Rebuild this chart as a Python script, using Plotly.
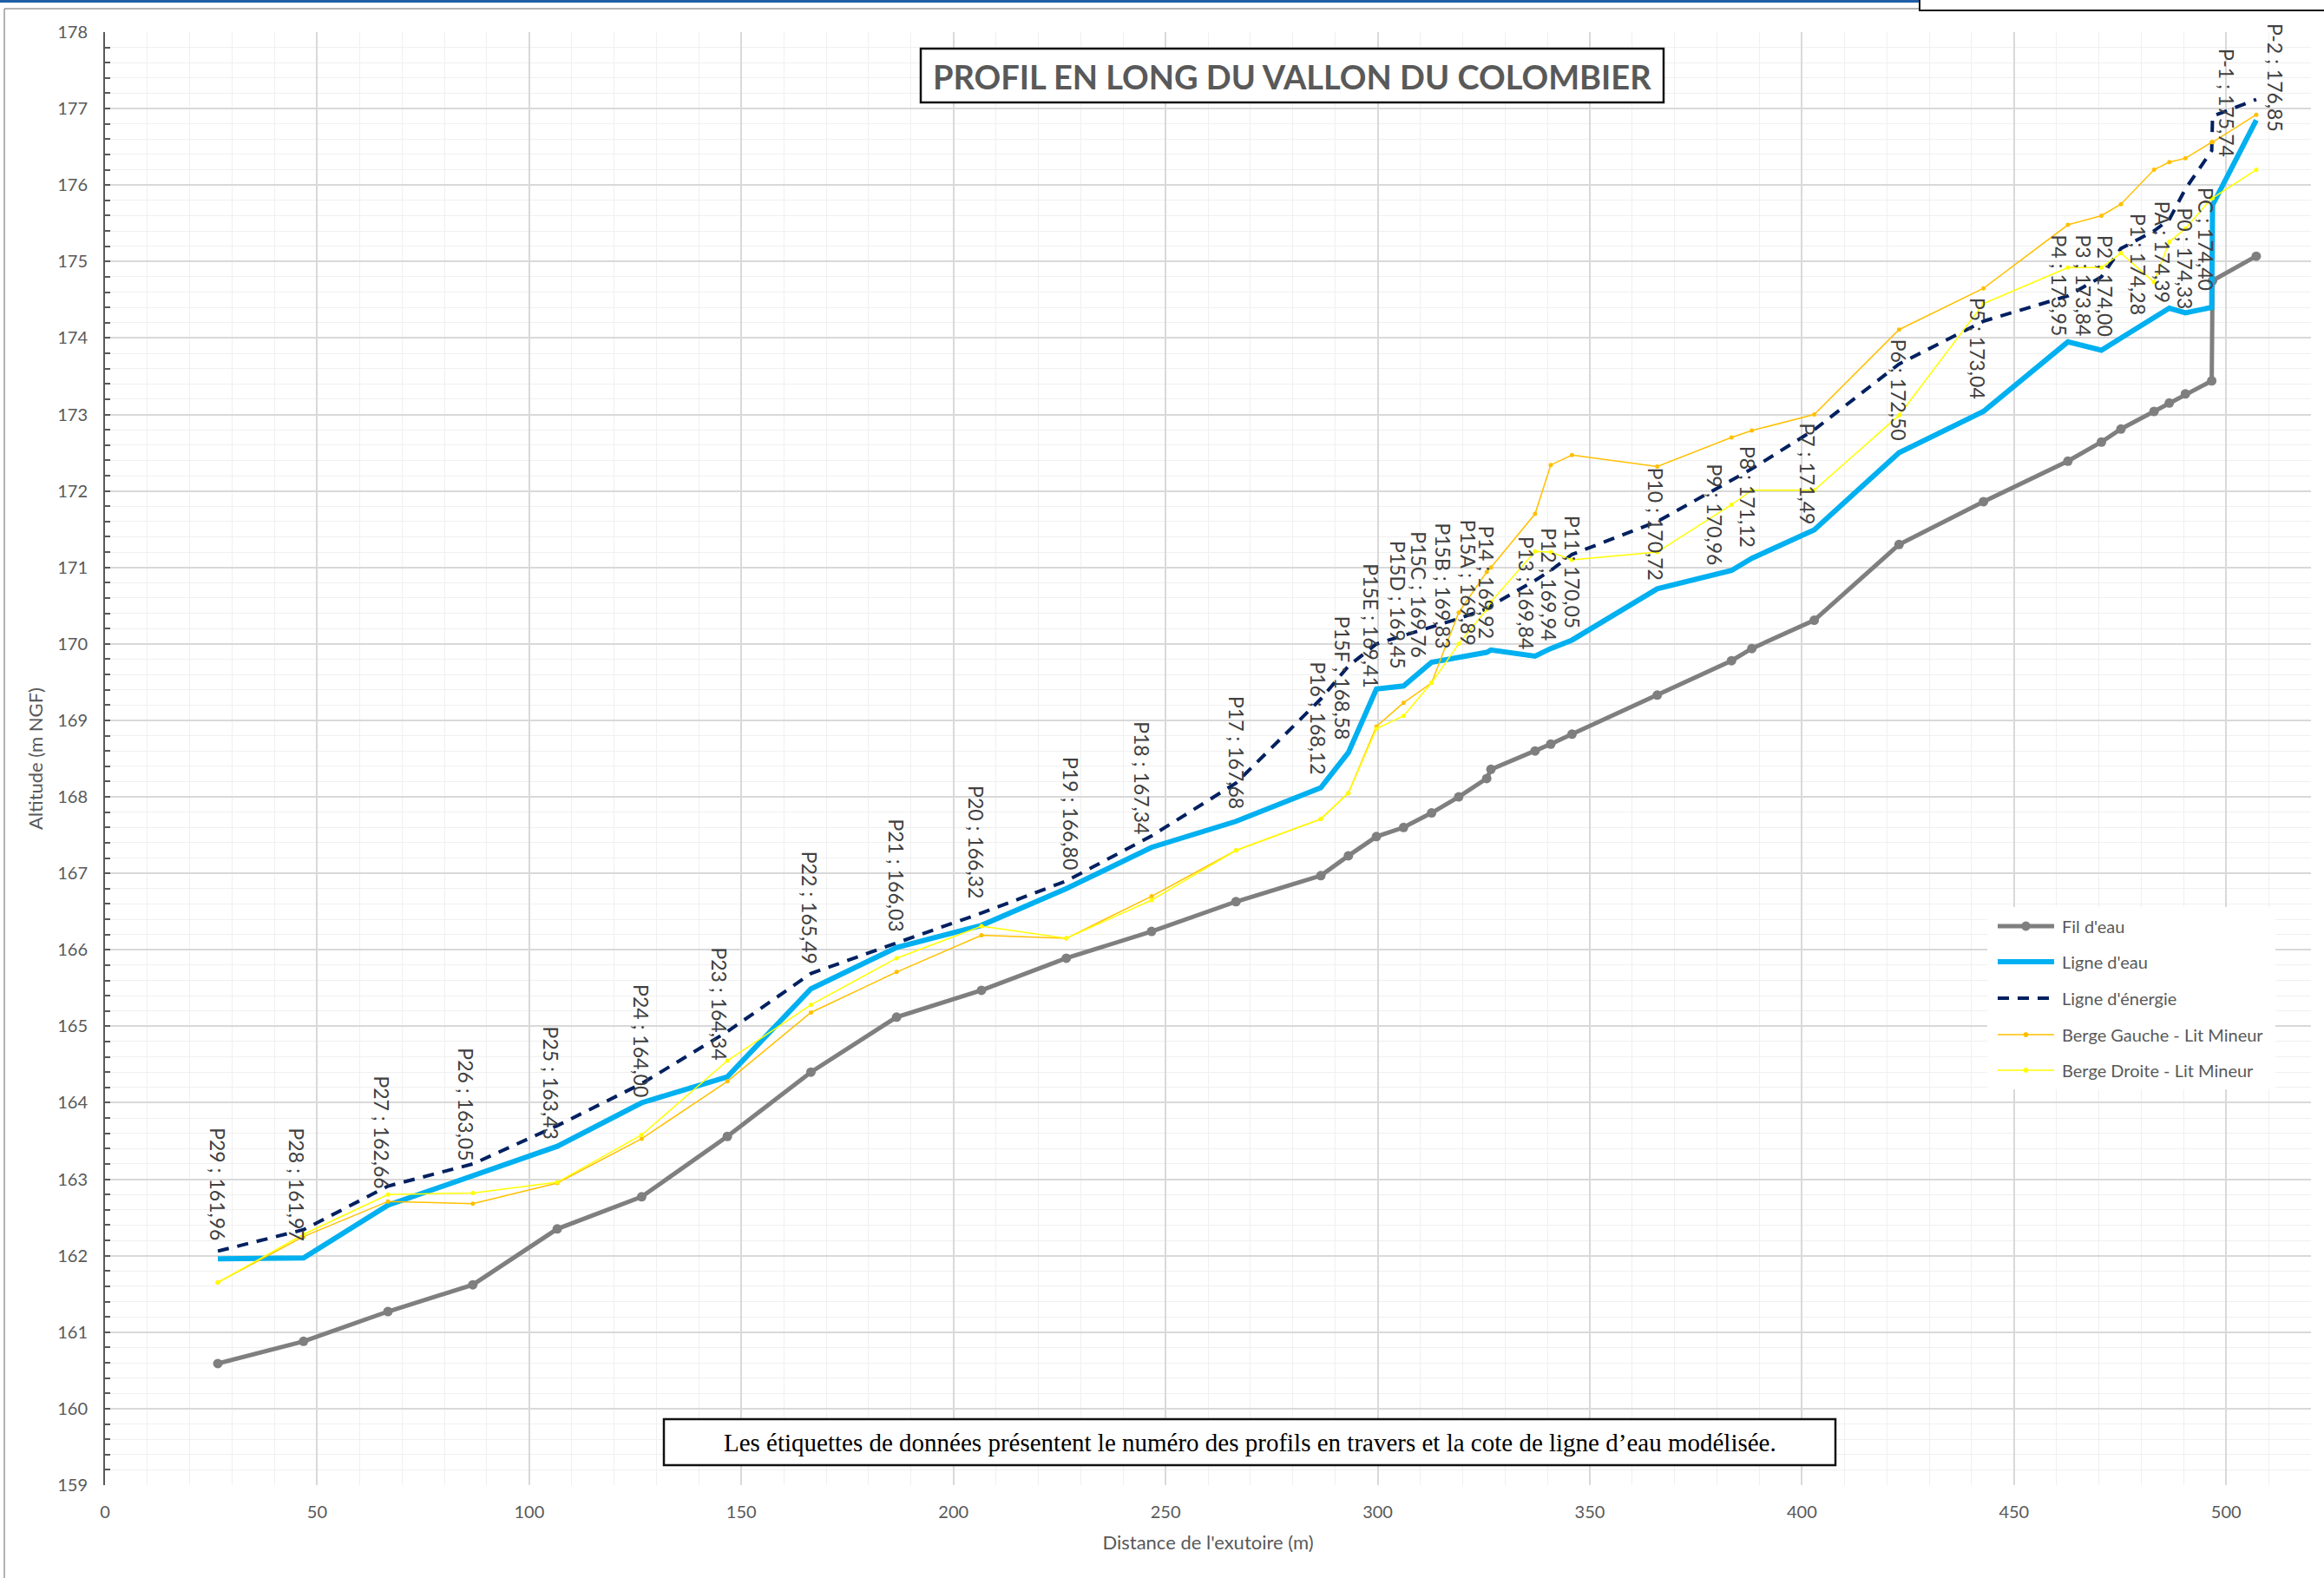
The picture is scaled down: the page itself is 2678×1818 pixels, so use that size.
import plotly.graph_objects as go

# ---- Profils en travers (de l'aval vers l'amont) ----
profiles = ["P29", "P28", "P27", "P26", "P25", "P24", "P23", "P22", "P21", "P20",
            "P19", "P18", "P17", "P16", "P15F", "P15E", "P15D", "P15C", "P15B", "P15A",
            "P14", "P13", "P12", "P11", "P10", "P9", "P8", "P7", "P6", "P5",
            "P4", "P3", "P2", "P1", "PA", "P0", "PC", "P-1", "P-2"]

# Distance à l'exutoire (m)
distance = [26.6, 46.8, 66.7, 86.7, 106.6, 126.5, 146.7, 166.4, 186.6, 206.6,
            226.6, 246.7, 266.6, 286.6, 293.1, 299.7, 306.1, 312.7, 319.1, 325.7,
            326.7, 337.1, 340.8, 345.8, 365.9, 383.4, 388.2, 402.9, 422.9, 442.8,
            462.7, 470.6, 475.2, 483.0, 486.6, 490.4, 496.6, 496.8, 507.1]

# Fil d'eau (m NGF)
fil_eau = [160.59, 160.88, 161.27, 161.62, 162.35, 162.77, 163.56, 164.40, 165.12, 165.47,
           165.89, 166.24, 166.63, 166.97, 167.23, 167.48, 167.60, 167.79, 168.00, 168.24,
           168.36, 168.60, 168.69, 168.82, 169.33, 169.78, 169.94, 170.31, 171.30, 171.86,
           172.39, 172.64, 172.81, 173.04, 173.15, 173.27, 173.44, 174.75, 175.07]

# Ligne d'eau modélisée (m NGF)
ligne_eau = [161.96, 161.97, 162.66, 163.05, 163.43, 164.00, 164.34, 165.49, 166.03, 166.32,
             166.80, 167.34, 167.68, 168.12, 168.58, 169.41, 169.45, 169.76, 169.83, 169.89,
             169.92, 169.84, 169.94, 170.05, 170.72, 170.96, 171.12, 171.49, 172.50, 173.04,
             173.95, 173.84, 174.00, 174.28, 174.39, 174.33, 174.40, 175.74, 176.85]

# Ligne d'énergie (m NGF)
ligne_energie = [162.06, 162.34, 162.91, 163.20, 163.70, 164.25, 164.93, 165.69, 166.09, 166.48,
                 166.90, 167.49, 168.18, 169.28, 169.71, 170.00, 170.11, 170.22, 170.33, 170.46,
                 170.50, 170.83, 170.96, 171.17, 171.60, 172.14, 172.29, 172.80, 173.66, 174.22,
                 174.55, 174.80, 175.17, 175.40, 175.55, 175.95, 176.45, 176.90, 177.12]

# Berges du lit mineur (m NGF)
berge_gauche = [161.65, 162.25, 162.71, 162.68, 162.95, 163.53, 164.28, 165.18, 165.71, 166.19,
                166.15, 166.70, 167.30, 167.71, 168.05, 168.92, 169.23, 169.49, 170.41, 170.94,
                171.00, 171.70, 172.34, 172.47, 172.32, 172.70, 172.79, 173.00, 174.11, 174.65,
                175.48, 175.60, 175.75, 176.20, 176.30, 176.35, 176.56, 176.56, 176.92]

berge_droite = [161.65, 162.28, 162.80, 162.82, 162.96, 163.58, 164.55, 165.28, 165.89, 166.31,
                166.15, 166.65, 167.30, 167.71, 168.05, 168.89, 169.06, 169.49, 170.00, 170.45,
                170.55, 171.21, 171.20, 171.10, 171.20, 171.82, 172.01, 172.01, 172.99, 174.45,
                174.92, 174.92, 175.11, 174.73, 175.26, 175.43, 175.83, 175.83, 176.20]

# Décalage des étiquettes (px) : (horizontal, espace au-dessus du point)
label_offsets = [(0, 19), (-8, 18), (-7, 17), (-8, 15), (-7, 6), (-1, 4), (-9, 17), (-2, 26), (0, 16), (-6, 29),
                 (5, 20), (-11, 13), (0, 12), (-4, 13), (-7, 12), (-6, 0), (-7, 17), (-15, 3), (-18, 7), (-21, 6),
                 (-5, 11), (-10, 6), (-2, 7), (0, 11), (-2, 8), (-19, 4), (-4, 10), (-8, 4), (0, 12), (-6, 12),
                 (-10, 4), (-21, 14), (-18, 0), (-18, 0), (-7, 4), (0, 2), (-6, 17), (17, 53), (22, -16)]

# ---- Mise en page (pixels) ----
W, H = 2678, 1818
M_L, M_R, M_T, M_B = 121, 15, 37, 107
PW, PH = W - M_L - M_R, H - M_T - M_B


def fx(px):
    return (px - M_L) / PW


def fy(py):
    return (H - M_B - py) / PH


GREY_TXT = "#595959"
FONT = "Lato"

fig = go.Figure()

fig.add_trace(go.Scatter(x=distance, y=fil_eau, name="Fil d'eau", mode="lines+markers",
                         line=dict(color="#7F7F7F", width=5),
                         marker=dict(size=11, color="#7F7F7F")))
fig.add_trace(go.Scatter(x=distance, y=ligne_eau, name="Ligne d'eau", mode="lines",
                         line=dict(color="#00B0F0", width=6)))
fig.add_trace(go.Scatter(x=distance, y=ligne_energie, name="Ligne d'énergie", mode="lines",
                         line=dict(color="#002060", width=4, dash="13px,10px")))
fig.add_trace(go.Scatter(x=distance, y=berge_gauche, name="Berge Gauche - Lit Mineur",
                         mode="lines+markers", line=dict(color="#FFC000", width=1.5),
                         marker=dict(size=5, color="#FFC000")))
fig.add_trace(go.Scatter(x=distance, y=berge_droite, name="Berge Droite - Lit Mineur",
                         mode="lines+markers", line=dict(color="#FFFF00", width=1.5),
                         marker=dict(size=5, color="#FFFF00")))

annotations = []
shapes = []

# Etiquettes : numéro du profil et cote de ligne d'eau
for name, d, z, (dx, gap) in zip(profiles, distance, ligne_eau, label_offsets):
    txt = f"{name} ; {z:.2f}".replace(".", ",")
    annotations.append(dict(x=d, y=z, xref="x", yref="y", text=txt, showarrow=False,
                            textangle=90, xanchor="center", yanchor="bottom",
                            xshift=dx, yshift=gap,
                            font=dict(family=FONT, size=23, color="#404040")))

# Cadre du graphique
shapes.append(dict(type="rect", xref="paper", yref="paper", x0=fx(0), x1=fx(2212), y0=fy(0), y1=fy(3),
                   fillcolor="#1F5FA8", line=dict(width=0), layer="above"))
shapes.append(dict(type="line", xref="paper", yref="paper", x0=fx(5), x1=fx(2212), y0=fy(10), y1=fy(10),
                   line=dict(color="#9A9A9A", width=1.5), layer="above"))
shapes.append(dict(type="line", xref="paper", yref="paper", x0=fx(5), x1=fx(5), y0=fy(10), y1=fy(1818),
                   line=dict(color="#9A9A9A", width=1.5), layer="above"))
shapes.append(dict(type="rect", xref="paper", yref="paper", x0=fx(2212), x1=fx(2690), y0=fy(-10), y1=fy(12),
                   fillcolor="white", line=dict(color="#111111", width=2), layer="above"))

# Titre encadré
shapes.append(dict(type="rect", xref="paper", yref="paper", x0=fx(1061), x1=fx(1917), y0=fy(56), y1=fy(118),
                   fillcolor="white", line=dict(color="#111111", width=2.5), layer="above"))
annotations.append(dict(x=fx(1489), y=fy(88), xref="paper", yref="paper", showarrow=False,
                        text="<b>PROFIL EN LONG DU VALLON DU COLOMBIER</b>",
                        xanchor="center", yanchor="middle",
                        font=dict(family=FONT, size=38, color=GREY_TXT)))

# Note explicative
shapes.append(dict(type="rect", xref="paper", yref="paper", x0=fx(765), x1=fx(2115), y0=fy(1635), y1=fy(1688),
                   fillcolor="white", line=dict(color="#111111", width=2.5), layer="above"))
annotations.append(dict(x=fx(1440), y=fy(1662), xref="paper", yref="paper", showarrow=False,
                        text="Les étiquettes de données présentent le numéro des profils en travers "
                             "et la cote de ligne d’eau modélisée.",
                        xanchor="center", yanchor="middle",
                        font=dict(family="Liberation Serif", size=29, color="#000000")))

# Légende
shapes.append(dict(type="rect", xref="paper", yref="paper", x0=fx(2290), x1=fx(2622), y0=fy(1045), y1=fy(1255),
                   fillcolor="white", line=dict(width=0), layer="above"))
legend_items = [
    ("Fil d'eau", "#7F7F7F", 5, "solid", 5),
    ("Ligne d'eau", "#00B0F0", 6, "solid", 0),
    ("Ligne d'énergie", "#002060", 4, "13px,10px", 0),
    ("Berge Gauche - Lit Mineur", "#FFC000", 1.5, "solid", 2.5),
    ("Berge Droite - Lit Mineur", "#FFFF00", 1.5, "solid", 2.5),
]
legend_y = [1067, 1108, 1150, 1192, 1233]
for (lab, col, w, dash, r), ly in zip(legend_items, legend_y):
    shapes.append(dict(type="line", xref="paper", yref="paper", x0=fx(2302), x1=fx(2367), y0=fy(ly), y1=fy(ly),
                       line=dict(color=col, width=w, dash=dash), layer="above"))
    if r:
        shapes.append(dict(type="circle", xref="paper", yref="paper",
                           x0=fx(2334.5 - r), x1=fx(2334.5 + r), y0=fy(ly - r), y1=fy(ly + r),
                           fillcolor=col, line=dict(color=col, width=1), layer="above"))
    annotations.append(dict(x=fx(2374), y=fy(ly), xref="paper", yref="paper", showarrow=False,
                            text=lab, xanchor="left", yanchor="middle",
                            font=dict(family=FONT, size=20, color=GREY_TXT)))

fig.update_layout(
    width=W, height=H, autosize=False,
    margin=dict(l=M_L, r=M_R, t=M_T, b=M_B, pad=0),
    paper_bgcolor="white", plot_bgcolor="white",
    showlegend=False,
    font=dict(family=FONT, color=GREY_TXT),
    annotations=annotations,
    shapes=shapes,
    xaxis=dict(range=[0, 520], tick0=0, dtick=50, showline=False, zeroline=False,
               showgrid=True, gridcolor="#D9D9D9", gridwidth=1.5, ticks="",
               tickfont=dict(family=FONT, size=20, color=GREY_TXT), ticklabelstandoff=17,
               minor=dict(dtick=10, showgrid=True, gridcolor="#F0F0F0", gridwidth=1),
               title=dict(text="Distance de l'exutoire (m)", standoff=17,
                          font=dict(family=FONT, size=22, color=GREY_TXT))),
    yaxis=dict(range=[159, 178], tick0=159, dtick=1, showline=True, linecolor="#595959", linewidth=2,
               zeroline=False, showgrid=True, gridcolor="#D9D9D9", gridwidth=1.5,
               ticks="inside", ticklen=6, tickcolor="#595959", tickwidth=1.5,
               tickfont=dict(family=FONT, size=20, color=GREY_TXT), ticklabelstandoff=14,
               minor=dict(dtick=0.2, showgrid=True, gridcolor="#F0F0F0", gridwidth=1,
                          ticks="inside", ticklen=6, tickcolor="#595959", tickwidth=1.5),
               title=dict(text="Altitude (m NGF)", standoff=10,
                          font=dict(family=FONT, size=22, color=GREY_TXT))),
)

fig.write_html("out.html")
